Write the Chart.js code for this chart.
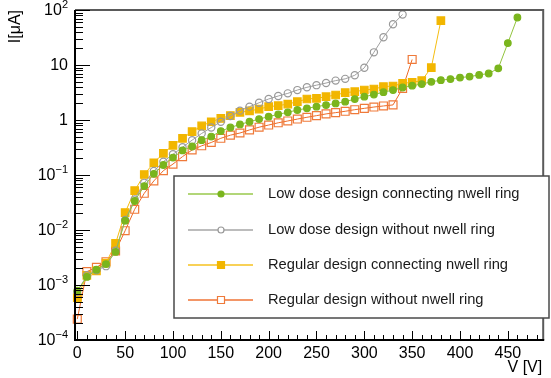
<!DOCTYPE html>
<html>
<head>
<meta charset="utf-8">
<script src="https://cdn.jsdelivr.net/npm/chart.js@4.4.1/dist/chart.umd.min.js"></script>
<style>
  html, body { margin: 0; padding: 0; background: #fff; }
  #wrap { width: 551px; height: 378px; }
</style>
</head>
<body>
<div id="wrap"><canvas id="ivChart" width="551" height="378"></canvas></div>
<script>
// bias voltage steps [V]
const voltages = [0, 10, 20, 30, 40, 50, 60, 70, 80, 90, 100, 110, 120, 130, 140, 150, 160, 170, 180, 190,
  200, 210, 220, 230, 240, 250, 260, 270, 280, 290, 300, 310, 320, 330, 340, 350, 360, 370, 380, 390,
  400, 410, 420, 430, 440, 450, 460];

// leakage current [uA]
const lowDoseRing = [7.9e-4, 1.4e-3, 1.9e-3, 2.4e-3, 4.0e-3, 0.0148, 0.0337, 0.063, 0.105, 0.152,
  0.207, 0.28, 0.33, 0.43, 0.50, 0.63, 0.73, 0.83, 0.93, 1.04,
  1.15, 1.27, 1.38, 1.52, 1.63, 1.75, 1.87, 2.0, 2.15, 2.4,
  2.65, 2.9, 3.2, 3.5, 3.9, 4.2, 4.5, 4.95, 5.3, 5.55,
  5.9, 6.15, 6.6, 7.0, 8.7, 25, 73];
const lowDoseNoRing = [7.5e-4, 1.5e-3, 1.85e-3, 2.2e-3, 4.2e-3, 0.0152, 0.036, 0.072, 0.118, 0.175,
  0.238, 0.32, 0.43, 0.57, 0.73, 0.93, 1.18, 1.48, 1.75, 2.06,
  2.41, 2.73, 3.05, 3.5, 3.93, 4.3, 4.7, 5.2, 5.6, 6.5,
  8.9, 17, 32, 55, 83];
const regularRing = [5.9e-4, 1.5e-3, 1.8e-3, 2.5e-3, 5.7e-3, 0.0207, 0.052, 0.102, 0.167, 0.248,
  0.347, 0.465, 0.614, 0.78, 0.93, 1.07, 1.2, 1.38, 1.46, 1.58,
  1.75, 1.82, 1.95, 2.15, 2.41, 2.48, 2.65, 2.85, 3.14, 3.27,
  3.51, 3.66, 4.04, 4.15, 4.64, 4.84, 5.19, 8.96, 64];
const regularNoRing = [2.4e-4, 1.75e-3, 2.1e-3, 2.65e-3, 4.15e-3, 9.7e-3, 0.0238, 0.0465, 0.078, 0.12,
  0.158, 0.216, 0.285, 0.34, 0.39, 0.465, 0.53, 0.58, 0.66, 0.74,
  0.81, 0.89, 0.96, 1.04, 1.12, 1.2, 1.29, 1.36, 1.44, 1.54,
  1.63, 1.72, 1.8, 1.88, 3.75, 12.6];

const seriesLabels = [
  'Low dose design connecting nwell ring',
  'Low dose design without nwell ring',
  'Regular design connecting nwell ring',
  'Regular design without nwell ring'
];

const xMajorTicks = [0, 50, 100, 150, 200, 250, 300, 350, 400, 450];
const yDecades = [-4, -3, -2, -1, 0, 1, 2];

const FONT = '"Liberation Sans", Arial, Helvetica, sans-serif';

const toPoints = (vals) => vals.map((v, i) => ({ x: voltages[i], y: v }));

const styles = [
  { line: '#92c43e', point: '#7ab51d', fill: '#7ab51d', shape: 'circle', r: 3.3, legendLine: 'rgba(146,196,62,0.7)' },
  { line: '#a0a0a0', point: '#999999', fill: 'rgba(0,0,0,0)', shape: 'circle', r: 3.6, legendLine: 'rgba(160,160,160,0.7)' },
  { line: '#f5bd10', point: '#f2b600', fill: '#f2b600', shape: 'rect', r: 5.3, legendLine: 'rgba(245,189,16,0.7)' },
  { line: '#ee6a26', point: '#ef7a3a', fill: 'rgba(0,0,0,0)', shape: 'rect', r: 5.6, legendLine: 'rgba(238,106,38,0.7)' }
];

const seriesData = [lowDoseRing, lowDoseNoRing, regularRing, regularNoRing];

const datasets = seriesData.map((vals, i) => ({
  label: seriesLabels[i],
  data: toPoints(vals),
  borderColor: styles[i].line,
  borderWidth: 1,
  pointStyle: styles[i].shape,
  pointRadius: styles[i].r,
  pointBorderColor: styles[i].point,
  pointBackgroundColor: styles[i].fill,
  pointBorderWidth: 1.2,
  tension: 0,
  clip: false
}));

// ticks on the inside of the frame, log labels with superscripts, titles
const frameAxes = {
  id: 'frameAxes',
  afterDraw(chart) {
    const { ctx, chartArea: a, scales: { x, y } } = chart;
    ctx.save();

    // frame
    ctx.strokeStyle = '#5a5a5a';
    ctx.lineWidth = 2;
    ctx.beginPath();
    ctx.moveTo(a.left, a.top);
    ctx.lineTo(a.right - 1, a.top);
    ctx.lineTo(a.right - 1, a.bottom);
    ctx.stroke();

    ctx.strokeStyle = '#000';
    ctx.lineWidth = 2;
    ctx.beginPath();
    ctx.moveTo(a.left, a.top);
    ctx.lineTo(a.left, a.bottom);
    ctx.lineTo(a.right, a.bottom);
    ctx.stroke();

    // y ticks: decades long, 2..9 short
    ctx.lineWidth = 1;
    ctx.beginPath();
    yDecades.forEach(d => {
      for (let m = 1; m <= 9; m++) {
        const v = m * Math.pow(10, d);
        if (v > 100.0001) break;
        const py = Math.round(y.getPixelForValue(v)) + 0.5;
        const len = m === 1 ? 15 : 8;
        ctx.moveTo(a.left, py);
        ctx.lineTo(a.left + len, py);
      }
    });
    ctx.stroke();

    // x ticks every 10 V, longer every 50 V
    ctx.beginPath();
    for (let v = 0; v <= x.max; v += 10) {
      const px = Math.round(x.getPixelForValue(v)) + 0.5;
      const len = v % 50 === 0 ? 9 : 5;
      ctx.moveTo(px, a.bottom);
      ctx.lineTo(px, a.bottom - len);
    }
    ctx.stroke();

    // y labels
    ctx.fillStyle = '#000';
    ctx.textBaseline = 'middle';
    const rightX = a.left - 7;
    yDecades.forEach(d => {
      const py = y.getPixelForValue(Math.pow(10, d)) + 1;
      ctx.textAlign = 'right';
      if (d === 0 || d === 1) {
        ctx.font = '16px ' + FONT;
        ctx.fillText(d === 0 ? '1' : '10', rightX, py);
        return;
      }
      const sup = (d < 0 ? '\u2212' : '') + Math.abs(d);
      ctx.font = '11px ' + FONT;
      const sw = ctx.measureText(sup).width;
      ctx.fillText(sup, rightX, py - 6);
      ctx.font = '16px ' + FONT;
      ctx.fillText('10', rightX - sw, py);
    });

    // axis titles
    ctx.font = '16px ' + FONT;
    ctx.textAlign = 'right';
    ctx.fillText('V [V]', a.right - 2, 368);

    ctx.save();
    ctx.translate(16, a.top);
    ctx.rotate(-Math.PI / 2);
    ctx.textAlign = 'right';
    ctx.fillText('I[\u03bcA]', 0, 0);
    ctx.restore();

    ctx.restore();
  }
};

// boxed legend inside the plot
const boxLegend = {
  id: 'boxLegend',
  afterDraw(chart) {
    const { ctx } = chart;
    const box = { left: 174, top: 176, right: 549, bottom: 318 };
    const rows = [194, 230, 265, 300];
    ctx.save();
    ctx.fillStyle = '#fff';
    ctx.fillRect(box.left, box.top, box.right - box.left, box.bottom - box.top);
    ctx.strokeStyle = '#4a4a4a';
    ctx.lineWidth = 1.5;
    ctx.strokeRect(box.left, box.top, box.right - box.left, box.bottom - box.top);

    chart.data.datasets.forEach((ds, i) => {
      const yy = rows[i];
      const st = styles[i];
      ctx.strokeStyle = st.legendLine;
      ctx.lineWidth = 2;
      ctx.beginPath();
      ctx.moveTo(188, yy);
      ctx.lineTo(253, yy);
      ctx.stroke();

      ctx.lineWidth = 1.2;
      ctx.strokeStyle = st.point;
      ctx.fillStyle = st.fill === 'rgba(0,0,0,0)' ? '#fff' : st.fill;
      ctx.beginPath();
      if (st.shape === 'circle') {
        ctx.arc(221, yy, 3, 0, Math.PI * 2);
      } else {
        ctx.rect(217.5, yy - 3.5, 7, 7);
      }
      ctx.fill();
      ctx.stroke();

      ctx.fillStyle = '#1a1a1a';
      ctx.font = '14.7px ' + FONT;
      ctx.textAlign = 'left';
      ctx.textBaseline = 'middle';
      ctx.fillText(ds.label, 268, yy);
    });
    ctx.restore();
  }
};

new Chart(document.getElementById('ivChart'), {
  type: 'line',
  data: { datasets },
  options: {
    responsive: false,
    animation: false,
    devicePixelRatio: 1,
    layout: { padding: { top: 10, right: 1, left: 0, bottom: 0 } },
    plugins: {
      legend: { display: false },
      tooltip: { enabled: false }
    },
    scales: {
      x: {
        type: 'linear',
        min: -2.4,
        max: 488,
        grid: { display: false, drawTicks: false },
        border: { display: false },
        afterBuildTicks: (s) => { s.ticks = xMajorTicks.map(v => ({ value: v })); },
        afterFit: (s) => { s.height = 38; },
        ticks: {
          color: '#000',
          padding: 4,
          maxRotation: 0,
          autoSkip: false,
          font: { family: FONT, size: 16 }
        }
      },
      y: {
        type: 'logarithmic',
        min: 1e-4,
        max: 100,
        grid: { display: false, drawTicks: false },
        border: { display: false },
        ticks: { display: false },
        afterFit: (s) => { s.width = 75; }
      }
    }
  },
  plugins: [frameAxes, boxLegend]
});
</script>
</body>
</html>
